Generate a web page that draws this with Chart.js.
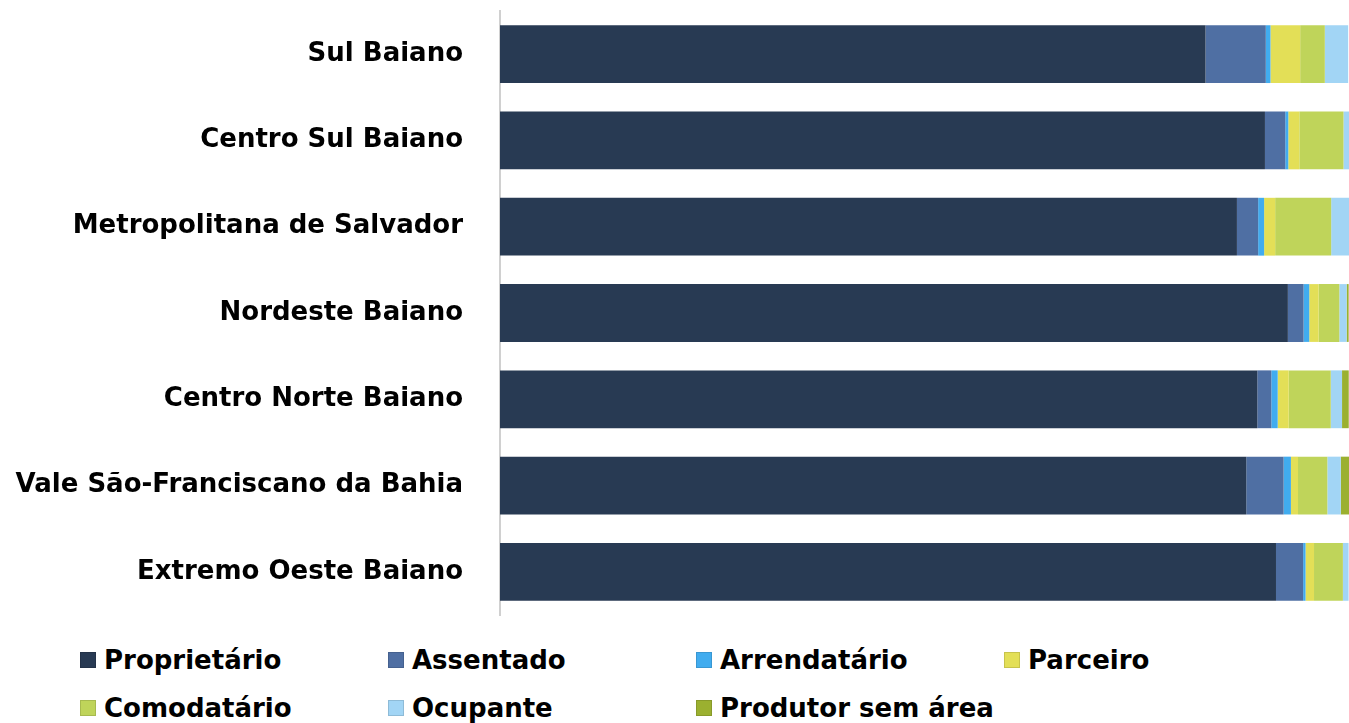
<!DOCTYPE html>
<html>
<head>
<meta charset="utf-8">
<script src="https://cdn.jsdelivr.net/npm/chart.js@4.4.1/dist/chart.umd.min.js"></script>
<style>
  body { margin: 0; background: #fff; width: 1349px; height: 723px; overflow: hidden; font-family: "DejaVu Sans", sans-serif; }
  #grafico { position: absolute; left: 0; top: 0; }
  #legenda { position: absolute; left: 80px; top: 642px; width: 1269px; }
  .item { position: absolute; display: flex; align-items: center; height: 36px; font-weight: bold; font-size: 26px; color: #000; white-space: nowrap; }
  .item span.box { width: 16px; height: 16px; margin-right: 8px; box-sizing: border-box; border: 1px solid rgba(0,0,0,0.12); }
</style>
</head>
<body>
<canvas id="grafico" width="1349" height="625"></canvas>
<div id="legenda"></div>
<script>
// regioes (de cima para baixo)
const regioes = ['Sul Baiano', 'Centro Sul Baiano', 'Metropolitana de Salvador', 'Nordeste Baiano',
  'Centro Norte Baiano', 'Vale São-Franciscano da Bahia', 'Extremo Oeste Baiano'];

// percentuais
const proprietario   = [83.1, 90.1, 86.8, 92.8, 89.2, 87.9, 91.4];
const assentado      = [7.1, 2.4, 2.5, 1.85, 1.65, 4.4, 3.2];
const arrendatario   = [0.55, 0.35, 0.7, 0.67, 0.75, 0.86, 0.28];
const parceiro       = [3.5, 1.3, 1.3, 1.1, 1.3, 0.83, 1.0];
const comodatario    = [2.9, 5.2, 6.6, 2.44, 4.95, 3.46, 3.4];
const ocupante       = [2.75, 0.67, 2.1, 0.86, 1.33, 1.58, 0.67];
const produtorSemArea = [0, 0, 0, 0.24, 0.79, 0.98, 0];

const series = [
  { label: 'Proprietário', data: proprietario, cor: '#283a53' },
  { label: 'Assentado', data: assentado, cor: '#4f6fa3' },
  { label: 'Arrendatário', data: arrendatario, cor: '#41acef' },
  { label: 'Parceiro', data: parceiro, cor: '#e3df57' },
  { label: 'Comodatário', data: comodatario, cor: '#bfd45a' },
  { label: 'Ocupante', data: ocupante, cor: '#a2d5f5' },
  { label: 'Produtor sem área', data: produtorSemArea, cor: '#9bb030' }
];

const datasets = series.map(s => ({
  label: s.label,
  data: s.data,
  backgroundColor: s.cor,
  borderWidth: 0,
  categoryPercentage: 0.67,
  barPercentage: 1
}));

new Chart(document.getElementById('grafico'), {
  type: 'bar',
  data: { labels: regioes, datasets: datasets },
  options: {
    indexAxis: 'y',
    responsive: false,
    animation: false,
    layout: { padding: { top: 11, bottom: 10, left: 0, right: 0 } },
    plugins: { legend: { display: false }, tooltip: { enabled: false } },
    scales: {
      x: { stacked: true, min: 0, max: 100, display: false },
      y: {
        stacked: true,
        grid: { display: false },
        border: { display: true, color: '#d0d0d0', width: 2 },
        ticks: {
          color: '#000',
          padding: 29,
          font: { family: 'DejaVu Sans', size: 26, weight: 'bold', lineHeight: 1.0 }
        },
        afterFit: (s) => {
          s.width = 500;
          // sem folga extra em cima/embaixo
          s.paddingTop = 0;
          s.paddingBottom = 0;
        }
      }
    }
  }
});

// legenda em grade (4 colunas)
const legenda = document.getElementById('legenda');
series.forEach((s, i) => {
  const d = document.createElement('div');
  d.className = 'item';
  d.style.left = (i % 4) * 308 + 'px';
  d.style.top = Math.floor(i / 4) * 48 + 'px';
  d.innerHTML = `<span class="box" style="background:${s.cor}"></span>${s.label}`;
  legenda.append(d);
});
</script>
</body>
</html>
